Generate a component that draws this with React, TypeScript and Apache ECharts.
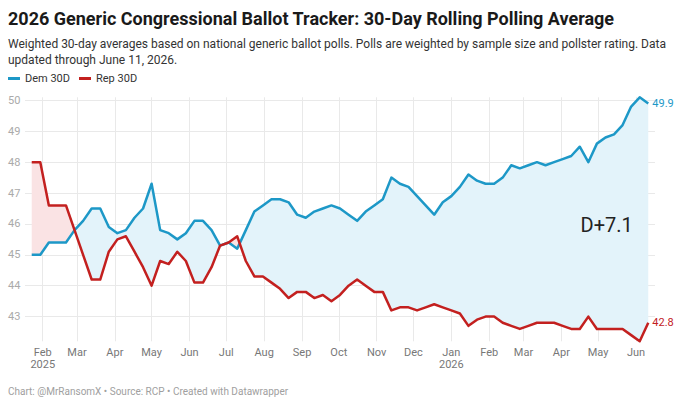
import React, { useEffect, useRef } from 'react';
import * as echarts from 'echarts';

const dates = [
  '2025-01-23', '2025-01-30', '2025-02-06', '2025-02-13', '2025-02-20', '2025-02-27',
  '2025-03-06', '2025-03-13', '2025-03-20', '2025-03-27', '2025-04-03', '2025-04-10',
  '2025-04-17', '2025-04-24', '2025-05-01', '2025-05-08', '2025-05-15', '2025-05-22',
  '2025-05-29', '2025-06-05', '2025-06-12', '2025-06-19', '2025-06-26', '2025-07-03',
  '2025-07-10', '2025-07-17', '2025-07-24', '2025-07-31', '2025-08-07', '2025-08-14',
  '2025-08-21', '2025-08-28', '2025-09-04', '2025-09-11', '2025-09-18', '2025-09-25',
  '2025-10-02', '2025-10-09', '2025-10-16', '2025-10-23', '2025-10-30', '2025-11-06',
  '2025-11-13', '2025-11-20', '2025-11-27', '2025-12-04', '2025-12-11', '2025-12-18',
  '2025-12-25', '2026-01-01', '2026-01-08', '2026-01-15', '2026-01-22', '2026-01-29',
  '2026-02-05', '2026-02-12', '2026-02-19', '2026-02-26', '2026-03-05', '2026-03-12',
  '2026-03-19', '2026-03-26', '2026-04-02', '2026-04-09', '2026-04-16', '2026-04-23',
  '2026-04-30', '2026-05-07', '2026-05-14', '2026-05-21', '2026-05-28', '2026-06-04',
  '2026-06-11',
];

const dem30 = [
  45.0, 45.0, 45.4, 45.4, 45.4, 45.8, 46.1, 46.5, 46.5, 45.9, 45.7, 45.8,
  46.2, 46.5, 47.3, 45.8, 45.7, 45.5, 45.7, 46.1, 46.1, 45.8, 45.3, 45.4,
  45.2, 45.8, 46.4, 46.6, 46.8, 46.8, 46.7, 46.3, 46.2, 46.4, 46.5, 46.6,
  46.5, 46.3, 46.1, 46.4, 46.6, 46.8, 47.5, 47.3, 47.2, 46.9, 46.6, 46.3,
  46.7, 46.9, 47.2, 47.6, 47.4, 47.3, 47.3, 47.5, 47.9, 47.8, 47.9, 48.0,
  47.9, 48.0, 48.1, 48.2, 48.5, 48.0, 48.6, 48.8, 48.9, 49.2, 49.8, 50.1,
  49.9,
];

const rep30 = [
  48.0, 48.0, 46.6, 46.6, 46.6, 45.8, 45.0, 44.2, 44.2, 45.1, 45.5, 45.6,
  45.1, 44.6, 44.0, 44.8, 44.7, 45.1, 44.8, 44.1, 44.1, 44.6, 45.3, 45.4,
  45.6, 44.8, 44.3, 44.3, 44.1, 43.9, 43.6, 43.8, 43.8, 43.6, 43.7, 43.5,
  43.7, 44.0, 44.2, 44.0, 43.8, 43.8, 43.2, 43.3, 43.3, 43.2, 43.3, 43.4,
  43.3, 43.2, 43.1, 42.7, 42.9, 43.0, 43.0, 42.8, 42.7, 42.6, 42.7, 42.8,
  42.8, 42.8, 42.7, 42.6, 42.6, 43.0, 42.6, 42.6, 42.6, 42.6, 42.4, 42.2,
  42.8,
];

const monthTicks = [
  '2025-02-01', '2025-03-01', '2025-04-01', '2025-05-01', '2025-06-01', '2025-07-01',
  '2025-08-01', '2025-09-01', '2025-10-01', '2025-11-01', '2025-12-01', '2026-01-01',
  '2026-02-01', '2026-03-01', '2026-04-01', '2026-05-01', '2026-06-01',
];
const monthLabels = [
  'Feb\n2025', 'Mar', 'Apr', 'May', 'Jun', 'Jul', 'Aug', 'Sep', 'Oct', 'Nov', 'Dec',
  'Jan\n2026', 'Feb', 'Mar', 'Apr', 'May', 'Jun',
];
const yTicks = [43, 44, 45, 46, 47, 48, 49, 50];

const seriesNames = ['Dem 30D', 'Rep 30D'];
const annotationDate = '2026-05-08';
const annotationValue = 45.96;

const xMinDate = '2025-01-17T12:00:00Z';
const xMaxDate = '2026-06-16T12:00:00Z';

const BLUE = '#1d98c7';
const RED = '#c3201f';
const BLUE_FILL = '#e3f3fa';
const RED_FILL = '#fae3e4';
const FONT = 'Roboto';

const toMs = (s: string) => Date.parse(s.length === 10 ? s + 'T00:00:00Z' : s);

export default function App() {
  const ref = useRef<HTMLDivElement>(null);

  useEffect(() => {
    if (!ref.current) return;
    const chart = echarts.init(ref.current, undefined, { renderer: 'svg' });

    const times = dates.map(toMs);
    const tickMs = monthTicks.map(toMs);
    const n = times.length;
    const demData = times.map((t, i) => [t, dem30[i]]);
    const repData = times.map((t, i) => [t, rep30[i]]);
    const yMin = Math.min(...dem30, ...rep30);
    const yMax = Math.max(...dem30, ...rep30);
    const lead = dem30[n - 1] - rep30[n - 1];
    const leadText = (lead >= 0 ? 'D+' : 'R+') + Math.abs(lead).toFixed(1);

    const renderFill = (params: any, api: any) => {
      const regions: { sign: number; top: number[][]; bot: number[][] }[] = [];
      let cur = { sign: 0, top: [] as number[][], bot: [] as number[][] };
      const close = (startPt: number[] | null) => {
        if (cur.sign !== 0 && cur.top.length > 1) regions.push(cur);
        cur = { sign: 0, top: startPt ? [startPt] : [], bot: startPt ? [startPt] : [] };
      };
      for (let i = 0; i < n; i++) {
        const di = dem30[i] - rep30[i];
        if (i > 0) {
          const dp = dem30[i - 1] - rep30[i - 1];
          if ((dp > 0 && di < 0) || (dp < 0 && di > 0)) {
            const f = dp / (dp - di);
            const t = times[i - 1] + f * (times[i] - times[i - 1]);
            const v = dem30[i - 1] + f * (dem30[i] - dem30[i - 1]);
            const c = api.coord([t, v]);
            cur.top.push(c);
            cur.bot.push(c);
            close(c);
          }
        }
        const pt = api.coord([times[i], dem30[i]]);
        const pb = api.coord([times[i], rep30[i]]);
        cur.top.push(pt);
        cur.bot.push(pb);
        if (Math.abs(di) < 1e-9) {
          close(pt);
        } else if (cur.sign === 0) {
          cur.sign = di > 0 ? 1 : -1;
        }
      }
      close(null);
      return {
        type: 'group',
        children: regions.map((r) => ({
          type: 'polygon',
          shape: { points: r.top.concat(r.bot.slice().reverse()) },
          style: { fill: r.sign > 0 ? BLUE_FILL : RED_FILL },
          silent: true,
        })),
      };
    };

    const option: any = {
      animation: false,
      backgroundColor: '#ffffff',
      textStyle: { fontFamily: FONT },
      grid: {
        left: 25,
        right: 25,
        top: 97.3,
        bottom: 63.7,
        containLabel: false,
        outerBoundsMode: 'none',
      },
      legend: {
        data: seriesNames,
        left: 8,
        top: 73,
        padding: 0,
        itemGap: 9,
        itemWidth: 12,
        itemHeight: 3,
        icon: 'rect',
        textStyle: { fontSize: 11, color: '#333', fontFamily: FONT },
        selectedMode: false,
      },
      xAxis: {
        type: 'value',
        min: toMs(xMinDate),
        max: toMs(xMaxDate),
        axisLine: { show: false },
        axisTick: { show: false, customValues: tickMs },
        splitLine: { show: true, lineStyle: { color: '#e9e9e9', width: 1 } },
        axisLabel: {
          customValues: tickMs,
          margin: 5,
          fontSize: 11,
          lineHeight: 12,
          color: '#777',
          fontFamily: FONT,
          hideOverlap: false,
          formatter: (value: number) => {
            const i = tickMs.findIndex((t) => Math.abs(t - value) < 43200000);
            return i >= 0 ? monthLabels[i] : '';
          },
        },
      },
      yAxis: {
        type: 'value',
        min: yMin,
        max: yMax,
        axisLine: { show: false },
        axisTick: { show: false, customValues: yTicks },
        splitLine: { show: true, lineStyle: { color: '#e9e9e9', width: 1 } },
        axisLabel: {
          customValues: yTicks,
          align: 'left',
          margin: 17,
          fontSize: 11,
          color: '#aaa',
          fontFamily: FONT,
        },
      },
      graphic: [
        {
          type: 'text',
          x: 8,
          y: 18.6,
          style: {
            text: '2026 Generic Congressional Ballot Tracker: 30-Day Rolling Polling Average',
            fontSize: 18,
            fontWeight: 'bold',
            fontFamily: FONT,
            fill: '#1a1a1a',
            align: 'left',
            verticalAlign: 'middle',
          },
        },
        {
          type: 'text',
          x: 8,
          y: 44.3,
          style: {
            text: 'Weighted 30-day averages based on national generic ballot polls. Polls are weighted by sample size and pollster rating. Data',
            fontSize: 12,
            fontFamily: FONT,
            fill: '#333',
            align: 'left',
            verticalAlign: 'middle',
          },
        },
        {
          type: 'text',
          x: 8,
          y: 60,
          style: {
            text: 'updated through June 11, 2026.',
            fontSize: 12,
            fontFamily: FONT,
            fill: '#333',
            align: 'left',
            verticalAlign: 'middle',
          },
        },
        {
          type: 'text',
          x: 8,
          y: 391,
          style: {
            text: 'Chart: @MrRansomX • Source: RCP • Created with Datawrapper',
            fontSize: 10,
            fontFamily: FONT,
            fill: '#a0a0a0',
            align: 'left',
            verticalAlign: 'middle',
          },
        },
      ],
      series: [
        {
          type: 'custom',
          name: 'gap',
          silent: true,
          z: 1,
          clip: false,
          data: [[times[0], dem30[0]]],
          renderItem: renderFill,
        },
        {
          type: 'line',
          name: seriesNames[0],
          data: demData,
          symbol: 'none',
          z: 3,
          clip: false,
          color: BLUE,
          lineStyle: { color: BLUE, width: 2.5, join: 'round' },
          endLabel: {
            show: true,
            distance: 4,
            color: BLUE,
            fontSize: 11,
            fontFamily: FONT,
            formatter: (p: any) => Number(p.value[1]).toFixed(1),
          },
          markPoint: {
            silent: true,
            symbol: 'rect',
            symbolSize: 1,
            itemStyle: { color: 'rgba(0,0,0,0)' },
            label: {
              show: true,
              position: 'inside',
              fontSize: 20,
              color: '#222',
              fontFamily: FONT,
              formatter: () => leadText,
            },
            data: [{ coord: [toMs(annotationDate), annotationValue] }],
          },
        },
        {
          type: 'line',
          name: seriesNames[1],
          data: repData,
          symbol: 'none',
          z: 3,
          clip: false,
          color: RED,
          lineStyle: { color: RED, width: 2.5, join: 'round' },
          endLabel: {
            show: true,
            distance: 4,
            color: RED,
            fontSize: 11,
            fontFamily: FONT,
            formatter: (p: any) => Number(p.value[1]).toFixed(1),
          },
        },
      ],
    };

    chart.setOption(option);
    return () => chart.dispose();
  }, []);

  return (
    <div
      ref={ref}
      style={{ position: 'absolute', left: 0, top: 0, width: 680, height: 405, background: '#fff' }}
    />
  );
}
